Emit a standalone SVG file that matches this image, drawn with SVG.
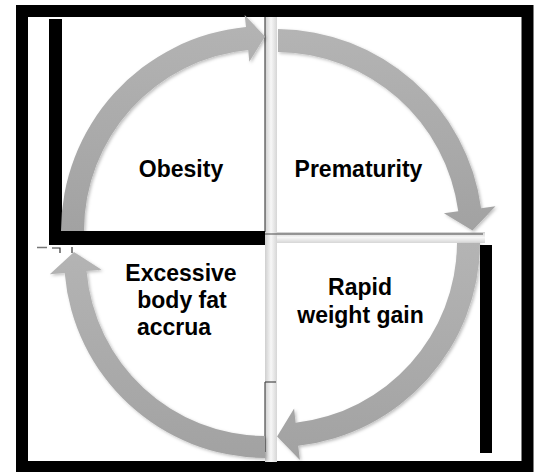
<svg xmlns="http://www.w3.org/2000/svg" width="535" height="472" viewBox="0 0 535 472">
  <style>
    .lbl { font-family: "Liberation Sans", Arial, sans-serif; font-weight: bold; font-size: 23px; fill: #000; }
    .arrow { fill: url(#ag); filter: url(#sh); }
    .bar { fill: #000; }
    .thin { stroke: #4a4a4a; stroke-width: 1.2; fill: none; }
  </style>
  <defs>
    <linearGradient id="ag" x1="0" y1="0" x2="0" y2="1">
      <stop offset="0" stop-color="#b4b4b4"/>
      <stop offset="1" stop-color="#a2a2a2"/>
    </linearGradient>
    <linearGradient id="vband" x1="0" y1="0" x2="1" y2="0">
      <stop offset="0" stop-color="#cfcfcf"/>
      <stop offset="0.5" stop-color="#f7f7f7"/>
      <stop offset="1" stop-color="#d6d6d6"/>
    </linearGradient>
    <linearGradient id="hband" x1="0" y1="0" x2="0" y2="1">
      <stop offset="0" stop-color="#cfcfcf"/>
      <stop offset="0.5" stop-color="#f7f7f7"/>
      <stop offset="1" stop-color="#d6d6d6"/>
    </linearGradient>
    <filter id="sh" x="-10%" y="-10%" width="120%" height="120%">
      <feDropShadow dx="1.5" dy="1.5" stdDeviation="1.5" flood-color="#000" flood-opacity="0.25"/>
    </filter>
  </defs>

  <rect width="535" height="472" fill="#fff"/>

  <!-- frame -->
  <rect x="22" y="11" width="505.5" height="456" fill="none" stroke="#000" stroke-width="12"/>

  <!-- quadrant dividers -->
  <rect x="265" y="17" width="12" height="445" fill="url(#vband)"/>
  <rect x="277" y="232" width="208" height="11" fill="url(#hband)"/>
  <line class="thin" x1="265" y1="17" x2="265" y2="232"/>
  <line class="thin" x1="265" y1="234" x2="483" y2="234"/>
  <line class="thin" x1="265" y1="382" x2="265" y2="452"/>
  <line class="thin" x1="265" y1="382" x2="276" y2="382"/>

  <!-- black bars -->
  <rect class="bar" x="49" y="19" width="13" height="226"/>
  <rect class="bar" x="49" y="231" width="216" height="14"/>
  <rect class="bar" x="480" y="245" width="12" height="208"/>

  <!-- small marks -->
  <line x1="37" y1="247.5" x2="47" y2="247.5" stroke="#777" stroke-width="1.5"/>
  <path d="M52,248 H60 V253" stroke="#333" stroke-width="1.2" fill="none"/>
  <line x1="72" y1="247" x2="72" y2="253" stroke="#333" stroke-width="1.2"/>

  <!-- connectors -->
  <g id="connectors">
    <path id="arrow-obesity-prematurity" class="arrow" d="M61,231 A205,205 0 0 1 246,27 L244.7,15 L265,36.6 L249.3,61.8 L248.2,49.9 A182,182 0 0 0 84,231 Z"/>
    <path id="arrow-prematurity-rapid" class="arrow" d="M278,29 A207,207 0 0 1 481.1,208.3 L495.5,206.3 L472.5,230.6 L443.9,213.3 L458.3,211.3 A184,184 0 0 0 278,52 Z"/>
    <path id="arrow-rapid-excessive" class="arrow" d="M480,243 A205,205 0 0 1 298.2,445.7 L299.9,460.1 L277.1,436.6 L294.1,408.5 L295.6,422.8 A182,182 0 0 0 457,243 Z"/>
    <path id="arrow-excessive-obesity" class="arrow" d="M265,458 A202,202 0 0 1 64.7,272.9 L49.8,274.2 L74,252 L101.6,269.8 L86.6,271.1 A180,180 0 0 0 265,436 Z"/>
  </g>

  <!-- nodes -->
  <g id="node-obesity">
    <text class="lbl" x="181" y="177" text-anchor="middle">Obesity</text>
  </g>
  <g id="node-prematurity">
    <text class="lbl" x="358.5" y="177" text-anchor="middle">Prematurity</text>
  </g>
  <g id="node-rapid-weight-gain">
    <text class="lbl" x="360" y="295" text-anchor="middle">Rapid</text>
    <text class="lbl" x="360.5" y="323" text-anchor="middle">weight gain</text>
  </g>
  <g id="node-excessive-body-fat">
    <text class="lbl" x="181" y="281" text-anchor="middle">Excessive</text>
    <text class="lbl" x="182" y="308" text-anchor="middle">body fat</text>
    <text class="lbl" x="137" y="335">accrua</text>
  </g>
</svg>
